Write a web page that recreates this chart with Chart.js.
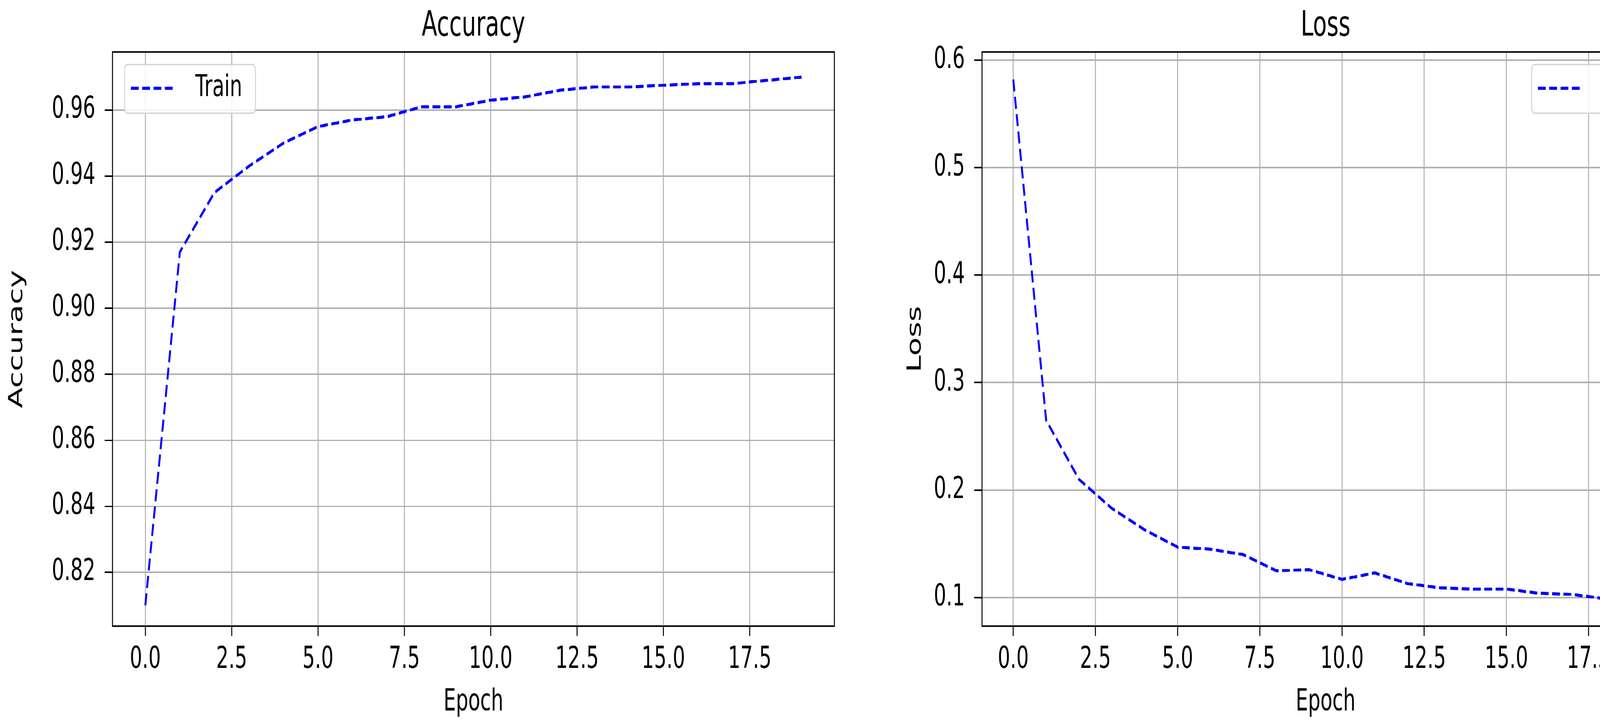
<!DOCTYPE html>
<html><head><meta charset="utf-8">
<script src="https://cdn.jsdelivr.net/npm/chart.js@4.4.0/dist/chart.umd.min.js"></script>
<style>
html,body{margin:0;padding:0;background:#fff;overflow:hidden;width:4320px;height:1851px;}
#wrap{position:absolute;left:0;top:0;width:4320px;height:1194px;transform:scaleY(1.5503);transform-origin:0 0;}
canvas{position:absolute;top:0;}
</style></head><body>
<div id="wrap"><canvas id="c1" width="2300" height="1194"></canvas><canvas id="c2" width="2020" height="1194"></canvas></div>
<script>
const epochs = [0,1,2,3,4,5,6,7,8,9,10,11,12,13,14,15,16,17,18,19];
const accuracy = [0.810,0.917,0.935,0.943,0.950,0.955,0.957,0.958,0.961,0.961,0.963,0.964,0.966,0.967,0.967,0.9675,0.968,0.968,0.969,0.970];
const loss = [0.582,0.265,0.210,0.183,0.163,0.147,0.145,0.140,0.125,0.126,0.117,0.123,0.113,0.109,0.108,0.108,0.104,0.103,0.099,0.102];
const xTicks = [0,2.5,5,7.5,10,12.5,15,17.5];
const accTicks = [0.82,0.84,0.86,0.88,0.90,0.92,0.94,0.96];
const lossTicks = [0.1,0.2,0.3,0.4,0.5,0.6];
const seriesLabel = 'Train';

const FONT = 'DejaVu Sans';
function make(id, left, cfg){
  const cv = document.getElementById(id);
  cv.style.left = left+'px';
  const frame = {id:'frame', afterDraw(ch){
    const a = ch.chartArea, c = ch.ctx;
    c.save(); c.strokeStyle='#000'; c.lineWidth=2.5; c.strokeRect(a.left,a.top,a.right-a.left,a.bottom-a.top);
    c.fillStyle='#000'; c.font='58px "'+FONT+'"'; c.textAlign='center'; c.textBaseline='middle';
    c.fillText(cfg.title,(a.left+a.right)/2,44);
    const L = cfg.legend;
    c.fillStyle='rgba(255,255,255,0.85)'; c.strokeStyle='#d4d4d4'; c.lineWidth=2.5;
    c.beginPath();
    if (c.roundRect) c.roundRect(L.x0,106.5,L.x1-L.x0,80.5,8); else c.rect(L.x0,106.5,L.x1-L.x0,80.5);
    c.fill(); c.stroke();
    c.strokeStyle='#0000ff'; c.lineWidth=5; c.setLineDash([20,9]);
    c.beginPath(); c.moveTo(L.x0+16,146); c.lineTo(L.x0+128,146); c.stroke(); c.setLineDash([]);
    c.fillStyle='#000'; c.font='50px "'+FONT+'"'; c.textAlign='left';
    c.fillText(seriesLabel,L.x0+181,146);
    c.restore();
  }};
  new Chart(cv,{
    type:'line',
    data:{datasets:[{label:seriesLabel,data:epochs.map((e,i)=>({x:e,y:cfg.values[i]})),
      borderColor:'#0000ff',borderWidth:5,borderDash:[20,9],pointRadius:0,fill:false,tension:0}]},
    options:{
      responsive:false, animation:false, devicePixelRatio:2,
      layout:{padding:{top:85.8,right:cfg.padRight,left:0,bottom:0}},
      plugins:{legend:{display:false},title:{display:false},tooltip:{enabled:false}},
      scales:{
        x:{type:'linear',min:-0.95,max:19.95,
          afterBuildTicks(s){s.ticks=xTicks.map(v=>({value:v}));},
          afterFit(s){s.height=160;},
          grid:{color:'#b0b0b0',lineWidth:2.5,tickLength:16,tickColor:'#000'},
          border:{display:false},
          ticks:{color:'#000',font:{family:FONT,size:50},padding:10,callback:v=>v.toFixed(1),maxRotation:0,autoSkip:false},
          title:{display:true,text:'Epoch',color:'#000',font:{family:FONT,size:50},padding:{top:8}}},
        y:{type:'linear',min:cfg.ymin,max:cfg.ymax,
          afterBuildTicks(s){s.ticks=cfg.yTicks.map(v=>({value:v}));},
          afterFit(s){s.width=cfg.yWidth;},
          grid:{color:'#b0b0b0',lineWidth:2.5,tickLength:20,tickColor:'#000'},
          border:{display:false},
          ticks:{color:'#000',font:{family:FONT,size:50},padding:24,callback:v=>cfg.fmt(v),autoSkip:false},
          title:{display:true,text:cfg.ytitle,color:'#000',font:{family:FONT,size:50},padding:{top:14,bottom:0}}}
      }
    },
    plugins:[frame]
  });
}
make('c1',0,{title:'Accuracy',ytitle:'Accuracy',values:accuracy,ymin:0.8037,ymax:0.9776,yTicks:accTicks,
  fmt:v=>v.toFixed(2),yWidth:288,padRight:164,legend:{x0:319,x1:654}});
make('c2',2300,{title:'Loss',ytitle:'Loss',values:loss,ymin:0.0735,ymax:0.6076,yTicks:lossTicks,
  fmt:v=>v.toFixed(1),yWidth:214,padRight:47,legend:{x0:1621,x1:1947}});
</script>
</body></html>
